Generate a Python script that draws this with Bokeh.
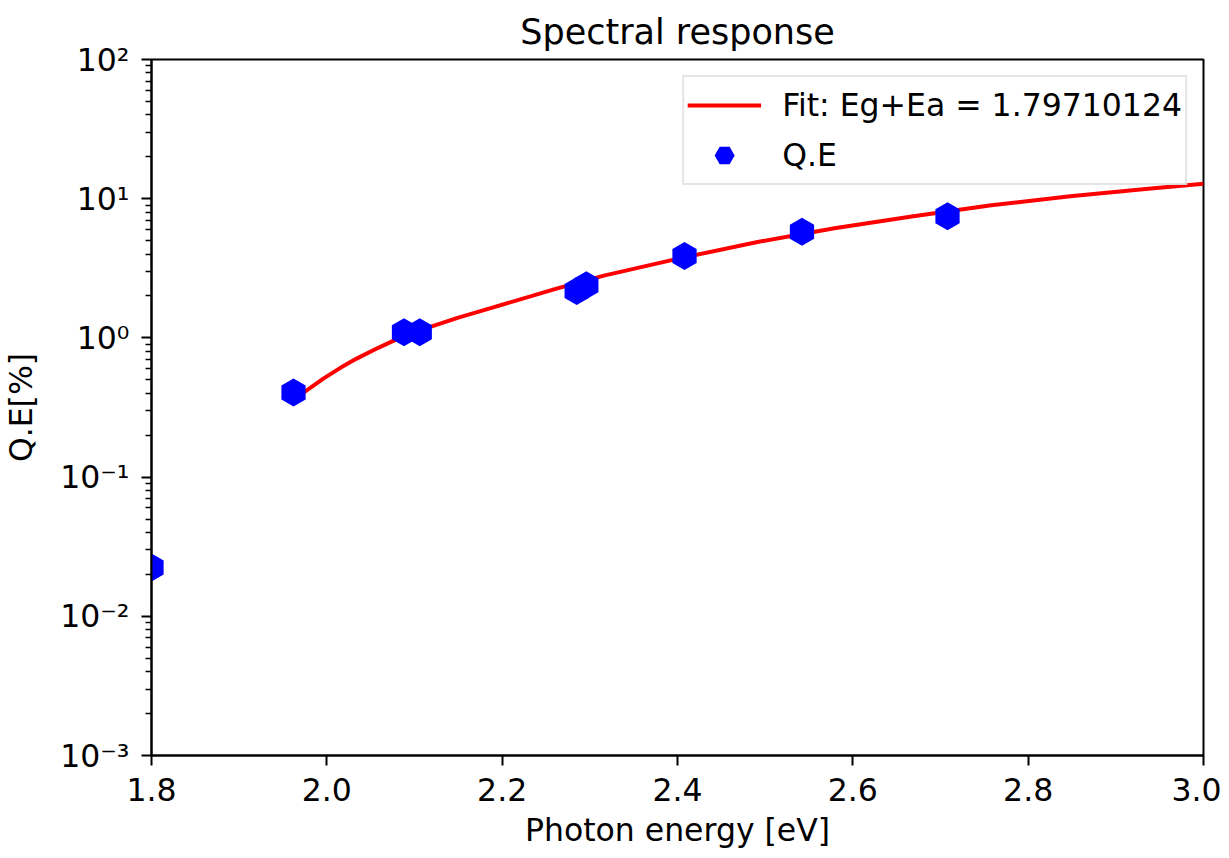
import math
from bokeh.plotting import figure
from bokeh.models import (CustomJSTickFormatter, FixedTicker, Legend, LegendItem,
                          PrintfTickFormatter)
from bokeh.embed import file_html
from bokeh.resources import INLINE

# Measured quantum efficiency points
energy = [1.800, 1.962, 2.088, 2.106, 2.285, 2.296, 2.408, 2.542, 2.708]
qe = [0.0224, 0.405, 1.10, 1.10, 2.17, 2.39, 3.87, 5.78, 7.48]

# Fit curve
fit_energy = [1.969, 1.996, 2.015, 2.034, 2.058, 2.083, 2.118, 2.150, 2.186, 2.262, 2.316,
              2.401, 2.490, 2.579, 2.669, 2.758, 2.848, 2.937, 3.0]
fit_qe = [0.387, 0.51, 0.607, 0.71, 0.845, 1.0, 1.2, 1.40, 1.63, 2.26, 2.8,
          3.71, 4.87, 6.13, 7.48, 8.96, 10.4, 11.8, 12.8]

x_ticks = [1.8, 2.0, 2.2, 2.4, 2.6, 2.8, 3.0]
y_ticks = [1e-3, 1e-2, 1e-1, 1e0, 1e1, 1e2]
y_minor = [m * 10.0 ** e for e in range(-3, 2) for m in range(2, 10)]

FONT = "DejaVu Sans"
FS = "31.5px"

p = figure(width=1221, height=850, output_backend="svg", toolbar_location=None,
           x_range=(1.8, 3.0), y_range=(1e-3, 1e2), y_axis_type="log",
           title="Spectral response",
           min_border_left=151, min_border_right=18, min_border_top=59,
           min_border_bottom=91)

p.title.align = "center"
p.title.text_font = FONT
p.title.text_font_size = "35px"
p.title.text_font_style = "normal"
p.title.text_color = "black"
p.title.standoff = 16

p.xgrid.visible = False
p.ygrid.visible = False
p.outline_line_color = "black"
p.outline_line_width = 2
p.outline_line_alpha = 1.0

line = p.line(fit_energy, fit_qe, line_color="#ff0000", line_width=4)
pts = p.scatter(energy, qe, marker="hex", size=28, angle=math.pi / 2,
                fill_color="#0000ff", line_color="#0000ff", line_width=0)

legend = Legend(items=[LegendItem(label="Fit: Eg+Ea = 1.79710124", renderers=[line]),
                       LegendItem(label="Q.E", renderers=[pts])],
                location="top_right", margin=16,
                label_text_font=FONT, label_text_font_size=FS,
                label_text_color="black",
                glyph_width=74, glyph_height=50, label_standoff=21,
                spacing=-3, padding=3,
                border_line_color="#cccccc", border_line_width=2,
                background_fill_color="white", background_fill_alpha=0.8)
p.add_layout(legend)

for ax in (p.xaxis[0], p.yaxis[0]):
    ax.axis_line_width = 2
    ax.major_tick_line_width = 2
    ax.major_tick_out = 10
    ax.major_tick_in = 0
    ax.major_label_text_font = FONT
    ax.major_label_text_font_size = FS
    ax.major_label_text_color = "black"
    ax.axis_label_text_font = FONT
    ax.axis_label_text_font_size = FS
    ax.axis_label_text_font_style = "normal"
    ax.axis_label_text_color = "black"

p.xaxis.axis_label = "Photon energy [eV]"
p.xaxis.ticker = FixedTicker(ticks=x_ticks)
p.xaxis.formatter = PrintfTickFormatter(format="%.1f")
p.xaxis.minor_tick_line_color = None
p.xaxis.major_label_standoff = 12
p.xaxis.axis_label_standoff = 8

p.yaxis.axis_label = "Q.E[%]"
p.yaxis.ticker = FixedTicker(ticks=y_ticks, minor_ticks=y_minor)
p.yaxis.minor_tick_out = 6
p.yaxis.minor_tick_in = 0
p.yaxis.minor_tick_line_width = 1.5
p.yaxis.major_label_standoff = 12
p.yaxis.axis_label_standoff = 18
p.yaxis.formatter = CustomJSTickFormatter(code="""
const sup = {'-': '\u207b', '0': '\u2070', '1': '\u00b9', '2': '\u00b2', '3': '\u00b3',
             '4': '\u2074', '5': '\u2075', '6': '\u2076', '7': '\u2077', '8': '\u2078', '9': '\u2079'};
const e = Math.round(Math.log10(tick));
return '10' + String(e).split('').map(c => sup[c]).join('');
""")

open("out.html", "w").write(file_html(p, INLINE))
